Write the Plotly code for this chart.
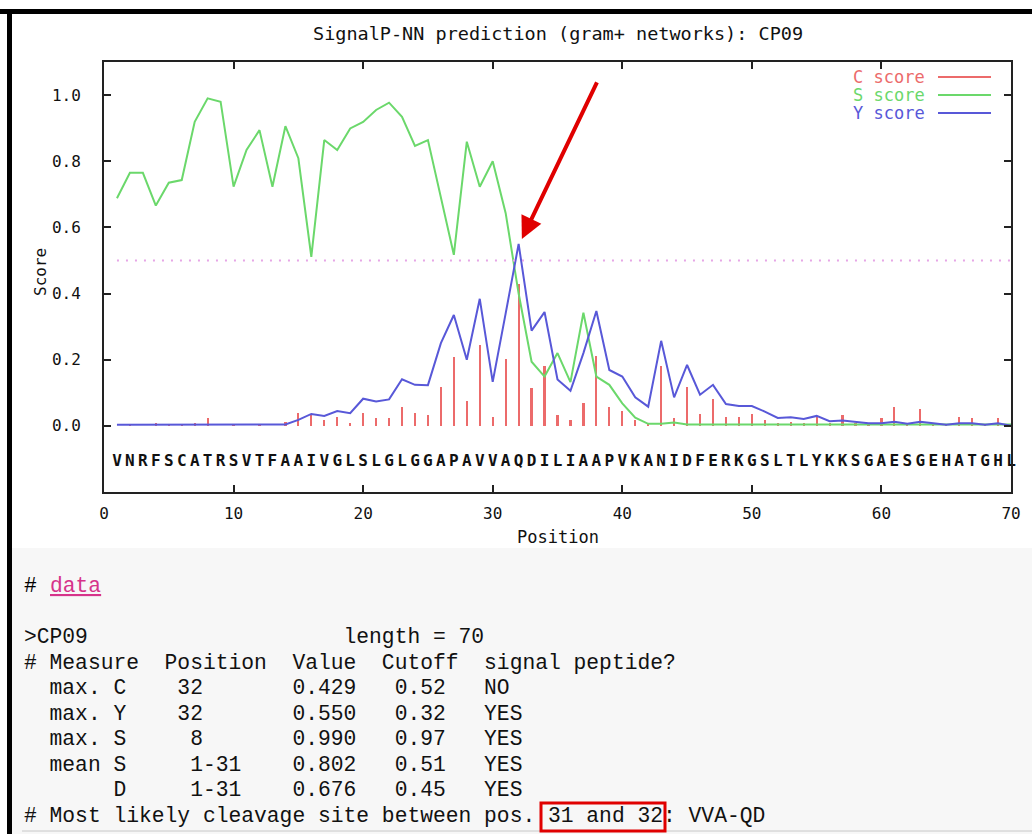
import plotly.graph_objects as go

# ---------------- data ----------------
positions = list(range(1, 71))
sequence = "VNRFSCATRSVTFAAIVGLSLGLGGAPAVVAQDILIAAPVKANIDFERKGSLTLYKKSGAESGEHATGHL"

c_score = [0.0, 0.006, 0.0, 0.01, 0.006, 0.006, 0.01, 0.025, 0.0, 0.006,
           0.0, 0.006, 0.0, 0.013, 0.038, 0.035, 0.018, 0.026, 0.01, 0.038,
           0.023, 0.025, 0.058, 0.038, 0.033, 0.116, 0.207, 0.076, 0.245, 0.028,
           0.202, 0.429, 0.115, 0.181, 0.033, 0.018, 0.07, 0.21, 0.056, 0.046,
           0.017, 0.004, 0.181, 0.023, 0.118, 0.036, 0.081, 0.028, 0.028, 0.036,
           0.018, 0.01, 0.012, 0.009, 0.03, 0.01, 0.033, 0.008, 0.008, 0.023,
           0.056, 0.006, 0.051, 0.005, 0.006, 0.028, 0.023, 0.006, 0.023, 0.0]

s_score = [0.688, 0.765, 0.765, 0.666, 0.735, 0.743, 0.919, 0.990, 0.98, 0.723,
           0.834, 0.894, 0.723, 0.906, 0.809, 0.511, 0.864, 0.834, 0.899, 0.919,
           0.955, 0.977, 0.934, 0.846, 0.864, 0.693, 0.517, 0.859, 0.723, 0.80,
           0.643, 0.40, 0.194, 0.149, 0.22, 0.132, 0.342, 0.149, 0.124, 0.068,
           0.025, 0.006, 0.006, 0.01, 0.004, 0.004, 0.004, 0.004, 0.004, 0.004,
           0.004, 0.004, 0.004, 0.004, 0.004, 0.004, 0.004, 0.004, 0.004, 0.004,
           0.004, 0.004, 0.004, 0.004, 0.004, 0.004, 0.004, 0.004, 0.004, 0.004]

y_score = [0.003, 0.003, 0.003, 0.003, 0.003, 0.003, 0.003, 0.003, 0.003, 0.003,
           0.003, 0.003, 0.003, 0.004, 0.018, 0.036, 0.03, 0.045, 0.038, 0.082,
           0.074, 0.08, 0.141, 0.124, 0.123, 0.25, 0.335, 0.2, 0.384, 0.133,
           0.34, 0.550, 0.288, 0.344, 0.14, 0.106, 0.22, 0.347, 0.169, 0.149,
           0.086, 0.058, 0.257, 0.086, 0.184, 0.094, 0.124, 0.066, 0.06, 0.06,
           0.043, 0.024, 0.026, 0.021, 0.03, 0.014, 0.016, 0.011, 0.008, 0.008,
           0.012, 0.006, 0.012, 0.008, 0.003, 0.008, 0.008, 0.003, 0.008, 0.0]

cutoff = 0.5
seq_y = -0.11
x_ticks = [0, 10, 20, 30, 40, 50, 60, 70]
y_ticks = [0.0, 0.2, 0.4, 0.6, 0.8, 1.0]

title_text = "SignalP-NN prediction (gram+ networks): CP09"
legend_labels = ["C score", "S score", "Y score"]

report_header = ">CP09                    length = 70"
report_rows = [
    "# Measure  Position  Value  Cutoff  signal peptide?",
    "  max. C    32       0.429   0.52   NO",
    "  max. Y    32       0.550   0.32   YES",
    "  max. S     8       0.990   0.97   YES",
    "  mean S     1-31    0.802   0.51   YES",
    "       D     1-31    0.676   0.45   YES",
    "# Most likely cleavage site between pos. 31 and 32: VVA-QD",
]

# ---------------- style ----------------
RED = "#ec6b6b"
GREEN = "#6bd86b"
BLUE = "#5858d8"
GP_FONT = "DejaVu Sans Mono"
TXT_FONT = "Courier New, Liberation Mono, monospace"

W, H = 1032, 834
L, R, T, B = 104, 1011, 62, 492


def px(xp):
    return (xp - L) / (R - L)


def py(yp):
    return (B - yp) / (B - T)


fig = go.Figure()

fig.add_trace(go.Bar(x=positions, y=c_score, width=0.17,
                     marker=dict(color=RED, line=dict(width=0)),
                     showlegend=False, hoverinfo="skip"))
fig.add_trace(go.Scatter(x=positions, y=s_score, mode="lines",
                         line=dict(color=GREEN, width=2), showlegend=False))
fig.add_trace(go.Scatter(x=positions, y=y_score, mode="lines",
                         line=dict(color=BLUE, width=2), showlegend=False))
fig.add_trace(go.Scatter(x=[positions[0], positions[-1]], y=[cutoff, cutoff],
                         mode="lines",
                         line=dict(color="#e6a6e6", width=2, dash="2px,7px"),
                         showlegend=False))
fig.add_trace(go.Scatter(x=positions, y=[seq_y] * len(positions), mode="text",
                         text=list(sequence), cliponaxis=False,
                         textfont=dict(family=GP_FONT, size=16, color="#111",
                                       weight="bold"),
                         showlegend=False))

annotations = []
shapes = []

# title
annotations.append(dict(text=title_text, xref="paper", yref="paper",
                        x=0.5, y=py(34), xanchor="center", yanchor="middle",
                        showarrow=False,
                        font=dict(family=GP_FONT, size=18.5, color="#111")))
# axis titles
annotations.append(dict(text="Score", xref="paper", yref="paper",
                        x=px(40), y=py(272), textangle=-90,
                        xanchor="center", yanchor="middle", showarrow=False,
                        font=dict(family=GP_FONT, size=16, color="#111")))
annotations.append(dict(text="Position", xref="paper", yref="paper",
                        x=0.5, y=py(537), xanchor="center", yanchor="middle",
                        showarrow=False,
                        font=dict(family=GP_FONT, size=17, color="#111")))

# legend
leg_colors = [RED, GREEN, BLUE]
leg_y = [77, 95, 113]
for lab, col, yy in zip(legend_labels, leg_colors, leg_y):
    annotations.append(dict(text=lab, xref="paper", yref="paper",
                            x=px(927), y=py(yy), xanchor="right",
                            yanchor="middle", showarrow=False,
                            font=dict(family=GP_FONT, size=17, color=col)))
    shapes.append(dict(type="line", xref="paper", yref="paper",
                       x0=px(938), x1=px(991), y0=py(yy), y1=py(yy),
                       line=dict(color=col, width=2)))

# red arrow
annotations.append(dict(text="", x=32.25, y=0.565, xref="x", yref="y",
                        ax=38.1, ay=1.043, axref="x", ayref="y",
                        showarrow=True, arrowhead=2, arrowsize=1.1,
                        arrowwidth=4, arrowcolor="#e00000"))

# background panels / frame of the screenshot
shapes.insert(0, dict(type="rect", xref="paper", yref="paper", layer="below",
                      x0=px(12), x1=px(W + 5), y0=py(548), y1=py(H + 5),
                      fillcolor="#f7f7f7", line=dict(width=0)))
shapes.append(dict(type="rect", xref="paper", yref="paper",
                   x0=px(-5), x1=px(W + 5), y0=py(9), y1=py(14),
                   fillcolor="#000", line=dict(width=0)))
shapes.append(dict(type="rect", xref="paper", yref="paper",
                   x0=px(7), x1=px(12), y0=py(9), y1=py(H + 5),
                   fillcolor="#000", line=dict(width=0)))
shapes.append(dict(type="line", xref="paper", yref="paper",
                   x0=px(22), x1=px(W + 5), y0=py(831), y1=py(831),
                   line=dict(color="#c8c8c8", width=1)))

# report text
NB = "\u00a0"
x_txt = px(22)
CH = 12.79
annotations.append(dict(text="#", xref="paper", yref="paper", x=x_txt,
                        y=py(586), xanchor="left", yanchor="middle",
                        showarrow=False,
                        font=dict(family=TXT_FONT, size=21.3, color="#000")))
annotations.append(dict(text="data", xref="paper", yref="paper",
                        x=px(22 + 2 * CH), y=py(586), xanchor="left",
                        yanchor="middle", showarrow=False,
                        font=dict(family=TXT_FONT, size=21.3, color="#d6338a",
                                  lineposition="under")))
row_y = [637, 663, 688, 714, 739, 765, 790, 816]
for txt, yy in zip([report_header] + report_rows, row_y):
    annotations.append(dict(text=txt.replace(" ", NB), xref="paper",
                            yref="paper", x=x_txt, y=py(yy), xanchor="left",
                            yanchor="middle", showarrow=False,
                            font=dict(family=TXT_FONT, size=21.3, color="#111")))
# red highlight box around "31 and 32"
shapes.append(dict(type="rect", xref="paper", yref="paper",
                   x0=px(541), x1=px(665), y0=py(831), y1=py(803),
                   line=dict(color="#e00000", width=3)))

axis_common = dict(showgrid=False, zeroline=False, showline=True,
                   linecolor="#222", linewidth=2, mirror="ticks",
                   ticks="inside", ticklen=7, tickwidth=1.5, tickcolor="#222",
                   tickfont=dict(family=GP_FONT, size=16, color="#111"))

fig.update_layout(
    width=W, height=H,
    margin=dict(l=L, r=W - R, t=T, b=H - B),
    paper_bgcolor="white", plot_bgcolor="white",
    xaxis=dict(range=[0, 70], tickvals=x_ticks,
               ticktext=[str(v) for v in x_ticks], ticklabelstandoff=6,
               **axis_common),
    yaxis=dict(range=[-0.2, 1.1], tickvals=y_ticks,
               ticktext=["%.1f" % v for v in y_ticks], ticklabelstandoff=18,
               **axis_common),
    annotations=annotations,
    shapes=shapes,
    showlegend=False,
    bargap=0,
)

fig.write_html(
    "out.html",
    config={"displayModeBar": False},
    post_script="document.body.style.margin='0';"
                "document.body.style.padding='0';"
                "document.body.style.overflow='hidden';",
)
